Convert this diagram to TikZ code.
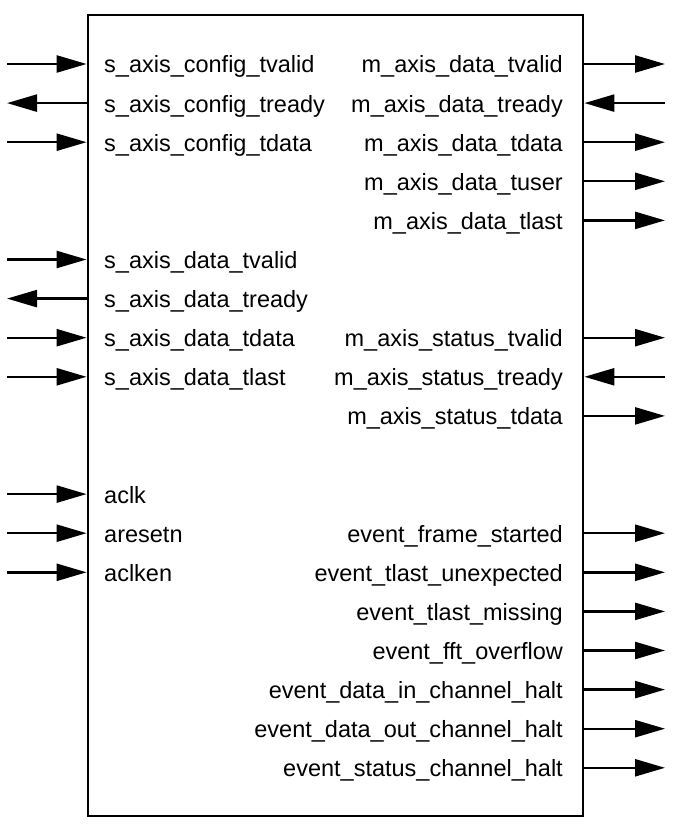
\documentclass[tikz,border=0pt]{standalone}
\usepackage{fontspec}
\setmainfont{Liberation Sans}
\usetikzlibrary{arrows.meta}
\begin{document}
\begin{tikzpicture}[x=1pt,y=-1pt,
  sigin/.style={line width=2.4pt,-{Triangle[length=30pt,width=17pt]}},
  sigout/.style={line width=2.4pt,{Triangle[length=30pt,width=17pt]}-},
  lbl/.style={font=\fontsize{23.5}{27}\selectfont, inner sep=0pt}]
\useasboundingbox (0,0) rectangle (681,829);
\node[draw, line width=2.8pt, minimum width=495pt, minimum height=801pt, inner sep=0pt] (blk) at (335.5,415.5) {};
% left side
\foreach \i/\t/\d in {0/s\_axis\_config\_tvalid/sigin,1/s\_axis\_config\_tready/sigout,2/s\_axis\_config\_tdata/sigin,
  5/s\_axis\_data\_tvalid/sigin,6/s\_axis\_data\_tready/sigout,7/s\_axis\_data\_tdata/sigin,8/s\_axis\_data\_tlast/sigin,
  11/aclk/sigin,12/aresetn/sigin,13/aclken/sigin}{
  \node[lbl, anchor=base west] (L\i) at (104,{64+39.1*\i+9}) {\t};
  \coordinate (LE\i) at (7,{64+39.1*\i});
  \draw[\d] (LE\i) -- (blk.west |- LE\i);
}
% right side
\foreach \i/\t/\d in {0/m\_axis\_data\_tvalid/sigin,1/m\_axis\_data\_tready/sigout,2/m\_axis\_data\_tdata/sigin,
  3/m\_axis\_data\_tuser/sigin,4/m\_axis\_data\_tlast/sigin,
  7/m\_axis\_status\_tvalid/sigin,8/m\_axis\_status\_tready/sigout,9/m\_axis\_status\_tdata/sigin,
  12/event\_frame\_started/sigin,13/event\_tlast\_unexpected/sigin,14/event\_tlast\_missing/sigin,
  15/event\_fft\_overflow/sigin,16/event\_data\_in\_channel\_halt/sigin,17/event\_data\_out\_channel\_halt/sigin,
  18/event\_status\_channel\_halt/sigin}{
  \node[lbl, anchor=base east] (R\i) at (563,{64+39.1*\i+9}) {\t};
  \coordinate (RE\i) at (665,{64+39.1*\i});
  \draw[\d] (blk.east |- RE\i) -- (RE\i);
}
\end{tikzpicture}
\end{document}
